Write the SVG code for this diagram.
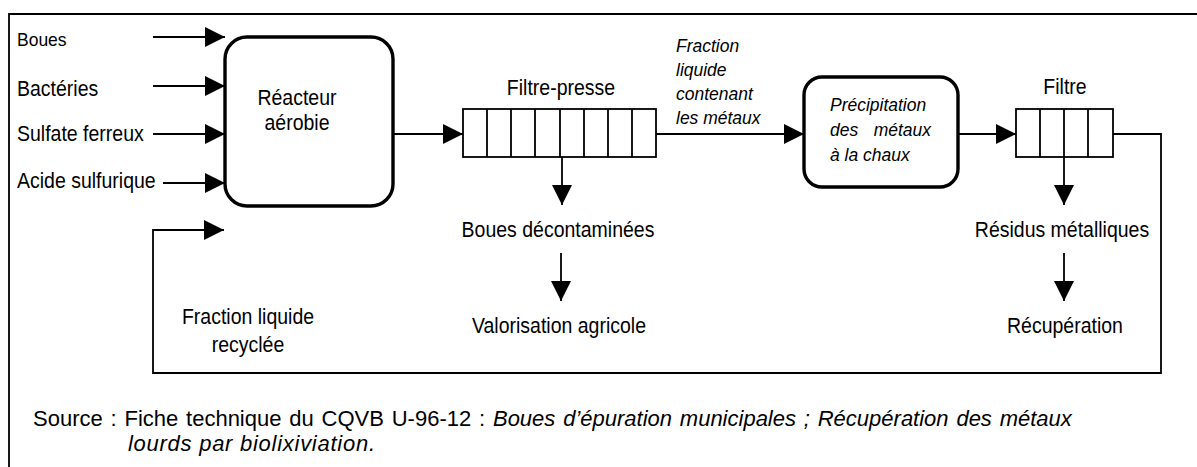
<svg xmlns="http://www.w3.org/2000/svg" width="1197" height="467" viewBox="0 0 1197 467">
<style>
text{font-family:"Liberation Sans",Arial,sans-serif;fill:#000}
.l{font-size:19.5px}
.s{font-size:17.5px}
.i{font-size:17.5px;font-style:italic}
.src{font-size:22px}
.c{text-anchor:middle}
.ln{fill:none;stroke:#000;stroke-width:1.8}
.box{fill:#fff;stroke:#000;stroke-width:3.4}
.fp{fill:#fff;stroke:#000;stroke-width:1.8}
</style>
<defs>
<marker id="ah" markerWidth="20" markerHeight="20" refX="20" refY="10" orient="auto" markerUnits="userSpaceOnUse">
<path d="M0,0 L20,10 L0,20 z" fill="#000"/>
</marker>
</defs>
<rect x="0" y="0" width="1197" height="467" fill="#fff"/>
<path d="M9,470 V14 H1200" fill="none" stroke="#000" stroke-width="1.8"/>

<g id="connectors">
<path class="ln" d="M153,37 H225" marker-end="url(#ah)"/>
<path class="ln" d="M153,86 H225" marker-end="url(#ah)"/>
<path class="ln" d="M153,134 H225" marker-end="url(#ah)"/>
<path class="ln" d="M163,183 H225" marker-end="url(#ah)"/>
<path class="ln" d="M393,134 H463" marker-end="url(#ah)"/>
<path class="ln" d="M656,134 H804" marker-end="url(#ah)"/>
<path class="ln" d="M958,134 H1016" marker-end="url(#ah)"/>
<path class="ln" d="M562,157 V205" marker-end="url(#ah)"/>
<path class="ln" d="M561,253 V301" marker-end="url(#ah)"/>
<path class="ln" d="M1064,157 V205" marker-end="url(#ah)"/>
<path class="ln" d="M1064,253 V301" marker-end="url(#ah)"/>
<path class="ln" d="M1113,134 H1161 V373 H153 V230 H224" marker-end="url(#ah)"/>
</g>

<g id="inputs">
<text class="s" transform="translate(17,46) scale(1,1.1)">Boues</text>
<text class="l" transform="translate(17,96) scale(1,1.1)">Bactéries</text>
<text class="l" transform="translate(17,141) scale(1,1.1)">Sulfate ferreux</text>
<text class="l" transform="translate(17,188) scale(1,1.1)">Acide sulfurique</text>
</g>

<g id="reacteur">
<rect class="box" x="225" y="37" width="168" height="169" rx="22"/>
<text class="l c" transform="translate(297,105) scale(1,1.1)">Réacteur</text>
<text class="l c" transform="translate(297,130) scale(1,1.1)">aérobie</text>
</g>

<g id="filtre-presse">
<rect class="fp" x="463" y="109" width="193" height="48"/>
<path class="ln" d="M487,109V157M511,109V157M535,109V157M560,109V157M584,109V157M608,109V157M632,109V157"/>
<text class="l c" transform="translate(561,95) scale(1,1.1)">Filtre-presse</text>
</g>

<g id="fraction-label">
<text class="i" transform="translate(676,52) scale(1,1.1)">Fraction</text>
<text class="i" transform="translate(676,76) scale(1,1.1)">liquide</text>
<text class="i" transform="translate(676,100) scale(1,1.1)">contenant</text>
<text class="i" transform="translate(676,124) scale(1,1.1)">les métaux</text>
</g>

<g id="precipitation">
<rect class="box" x="804" y="77" width="154" height="110" rx="18"/>
<text class="i" transform="translate(830,111) scale(1,1.1)">Précipitation</text>
<text class="i" transform="translate(830,136) scale(1,1.1)">des</text>
<text class="i" transform="translate(931,136) scale(1,1.1)" text-anchor="end">métaux</text>
<text class="i" transform="translate(830,161) scale(1,1.1)">à la chaux</text>
</g>

<g id="filtre">
<rect class="fp" x="1016" y="109" width="97" height="48"/>
<path class="ln" d="M1040,109V157M1064,109V157M1088,109V157"/>
<text class="l c" transform="translate(1065,94) scale(1,1.1)">Filtre</text>
</g>

<g id="boues-decontaminees">
<text class="l c" transform="translate(558,237) scale(1,1.1)">Boues décontaminées</text>
</g>
<g id="valorisation">
<text class="l c" transform="translate(559,333) scale(1,1.1)">Valorisation agricole</text>
</g>
<g id="residus">
<text class="l c" transform="translate(1062,237) scale(1,1.1)">Résidus métalliques</text>
</g>
<g id="recuperation">
<text class="l c" transform="translate(1065,333) scale(1,1.1)">Récupération</text>
</g>
<g id="recyclee">
<text class="l c" transform="translate(248,324) scale(1,1.1)">Fraction liquide</text>
<text class="l c" transform="translate(248,352) scale(1,1.1)">recyclée</text>
</g>

<g id="source">
<text class="src" x="33" y="426" word-spacing="1.7">Source : Fiche technique du CQVB U-96-12 : <tspan font-style="italic">Boues d’épuration municipales ; Récupération des métaux</tspan></text>
<text class="src" font-style="italic" x="128" y="451" textLength="247" lengthAdjust="spacing">lourds par biolixiviation.</text>
</g>
</svg>
